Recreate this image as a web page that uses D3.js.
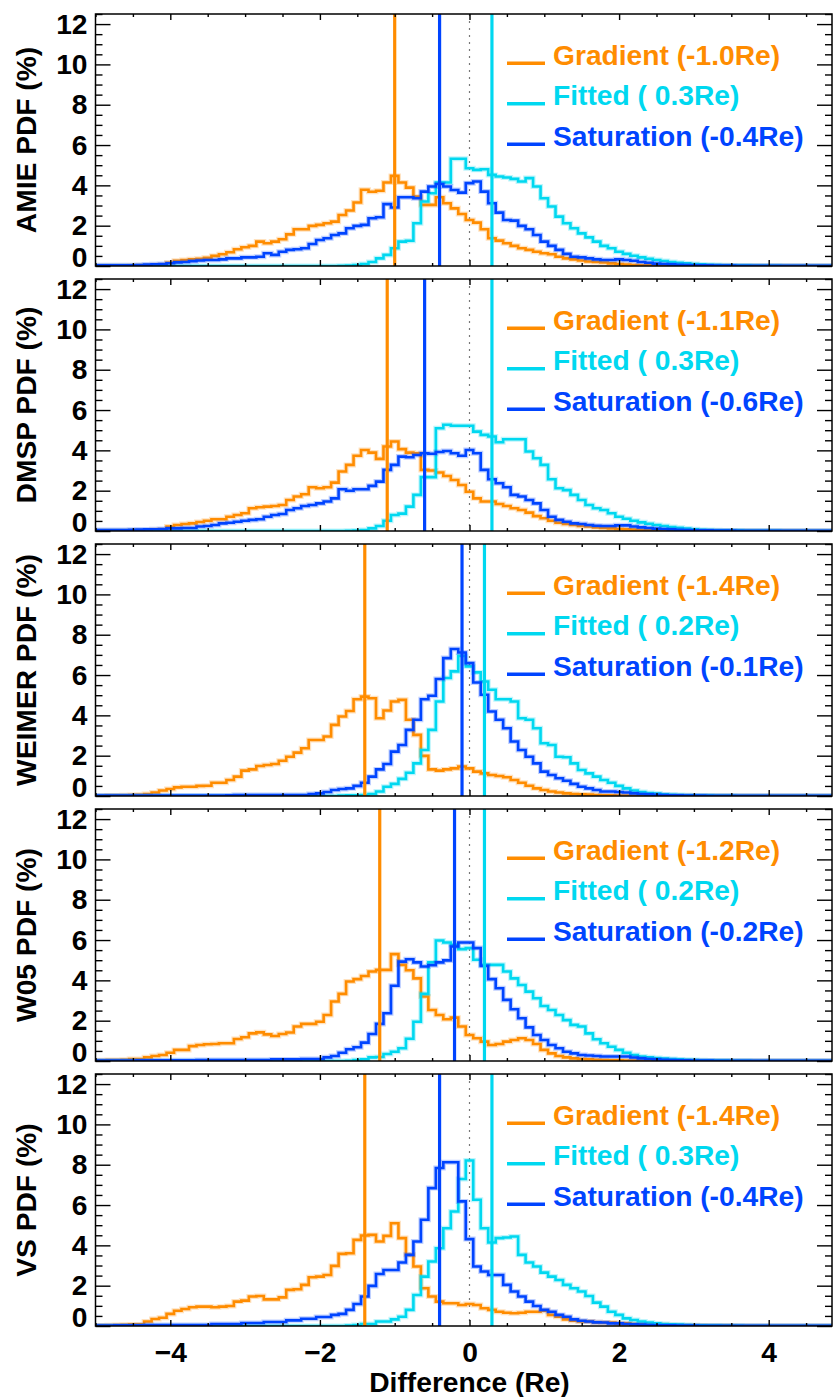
<!DOCTYPE html>
<html>
<head>
<meta charset="utf-8">
<script src="https://cdn.jsdelivr.net/npm/d3@7"></script>
<style>
  body { margin: 0; background: #ffffff; }
  svg text { font-family: "Liberation Sans", Arial, Helvetica, sans-serif; font-weight: bold; }
</style>
</head>
<body>
<svg id="chart" width="833" height="1397"></svg>
<script>
// ---------------- DATA ----------------
const panelNames = ["AMIE", "DMSP", "WEIMER", "W05", "VS"];
const gradientMeans = [-1.0, -1.1, -1.4, -1.2, -1.4];
const fittedMeans = [0.3, 0.3, 0.2, 0.2, 0.3];
const saturationMeans = [-0.4, -0.6, -0.1, -0.2, -0.4];
const yTickValues = [0, 2, 4, 6, 8, 10, 12];
const xTickValues = [-4, -2, 0, 2, 4];
const binStart = -5.0;   // centre of first bin (Re)
const binWidth = 0.1;    // bin width (Re)

// PDF values (%) per bin, bins centred at -5.0, -4.9, ... , 5.0
const amieGradient = [
  0,0,0,0,0,0.01,0.02,0.03,0.04,0.05,
  0.16,0.26,0.30,0.33,0.36,0.41,0.50,0.58,0.68,0.83,
  0.93,1.00,1.21,1.13,1.21,1.33,1.57,1.82,1.82,1.99,
  2.04,2.12,2.20,2.53,2.75,3.15,3.78,3.68,3.73,4.14,
  4.47,4.14,3.89,3.44,3.03,3.03,3.41,3.11,2.86,2.58,
  2.28,2.15,1.82,1.38,1.26,1.13,1.00,0.88,0.80,0.71,
  0.63,0.58,0.46,0.38,0.33,0.27,0.22,0.20,0.17,0.13,
  0.10,0.07,0.05,0.04,0.03,0.02,0.02,0.01,0.01,0.01,
  0.01,0.01,0,0,0,0,0,0,0,0,
  0,0,0,0,0,0,0,0,0,0,
  0];
const amieFitted = [
  0,0,0,0,0,0,0,0,0,0,
  0,0,0,0,0,0,0,0,0,0,
  0,0,0,0,0,0,0,0,0,0,
  0,0,0,0.01,0.02,0.05,0.10,0.20,0.38,0.55,
  0.88,1.21,1.25,2.12,3.20,3.61,4.14,4.14,5.32,5.32,
  4.85,4.77,4.80,4.52,4.44,4.39,4.32,4.19,4.36,3.94,
  3.36,2.95,2.45,2.12,1.87,1.62,1.42,1.21,1.00,0.88,
  0.71,0.60,0.51,0.43,0.36,0.30,0.25,0.20,0.16,0.13,
  0.10,0.08,0.06,0.05,0.04,0.03,0.02,0.02,0.01,0.01,
  0.01,0.01,0,0,0,0,0,0,0,0,
  0];
const amieSaturation = [
  0.04,0.04,0.04,0.04,0.04,0.04,0.05,0.07,0.09,0.10,
  0.14,0.18,0.20,0.24,0.27,0.30,0.30,0.33,0.38,0.38,
  0.43,0.43,0.46,0.63,0.55,0.71,0.80,0.83,0.88,1.09,
  1.29,1.38,1.54,1.62,1.87,1.99,2.04,2.37,2.42,3.07,
  2.90,3.41,3.41,3.36,3.69,3.94,4.07,3.94,3.77,3.64,
  4.11,4.19,3.69,3.11,2.65,2.28,2.25,1.99,1.82,1.54,
  1.21,1.00,0.80,0.60,0.46,0.43,0.38,0.33,0.30,0.30,
  0.33,0.30,0.26,0.20,0.16,0.12,0.10,0.08,0.06,0.05,
  0.04,0.03,0.03,0.02,0.02,0.02,0.01,0.01,0.01,0.01,
  0.01,0.01,0.01,0.01,0.01,0.01,0.01,0.01,0.01,0.01,
  0.01];

const dmspGradient = [
  0,0,0,0,0,0.01,0.02,0.03,0.05,0.08,
  0.22,0.30,0.35,0.38,0.45,0.51,0.58,0.58,0.71,0.79,
  0.88,1.13,1.18,1.21,1.24,1.29,1.54,1.71,1.82,2.17,
  2.12,2.17,2.40,2.95,3.28,3.73,4.02,3.89,3.58,4.19,
  4.44,4.06,3.89,3.86,3.03,3.00,2.90,2.73,2.53,2.28,
  1.95,1.62,1.46,1.46,1.34,1.24,1.13,1.04,0.91,0.74,
  0.63,0.51,0.41,0.35,0.30,0.25,0.22,0.18,0.15,0.13,
  0.10,0.08,0.07,0.05,0.03,0.02,0.02,0.01,0.01,0.01,
  0.01,0,0,0,0,0,0,0,0,0,
  0,0,0,0,0,0,0,0,0,0,
  0];
const dmspFitted = [
  0,0,0,0,0,0,0,0,0,0,
  0,0,0,0,0,0,0,0,0,0,
  0,0,0,0,0,0,0,0,0,0,
  0,0,0,0,0.01,0.02,0.05,0.13,0.25,0.51,
  0.79,0.86,1.21,1.79,2.67,2.67,5.10,5.27,5.22,5.22,
  5.22,4.93,4.77,4.69,4.40,4.55,4.55,4.55,3.94,3.61,
  3.28,2.57,2.12,2.03,1.79,1.54,1.29,1.13,1.04,0.88,
  0.71,0.61,0.51,0.43,0.36,0.30,0.25,0.20,0.16,0.12,
  0.09,0.06,0.05,0.04,0.03,0.02,0.02,0.01,0.01,0.01,
  0.01,0.01,0,0,0,0,0,0,0,0,
  0];
const dmspSaturation = [
  0.05,0.05,0.05,0.05,0.05,0.06,0.07,0.08,0.09,0.10,
  0.13,0.13,0.15,0.15,0.22,0.25,0.30,0.38,0.41,0.46,
  0.51,0.55,0.58,0.71,0.79,0.84,1.04,1.13,1.24,1.29,
  1.37,1.46,1.62,2.07,2.00,2.07,2.07,2.24,2.45,3.03,
  3.28,3.69,3.66,3.77,3.86,3.83,3.92,3.97,3.86,3.73,
  4.02,3.86,3.03,2.57,2.37,2.17,1.79,1.71,1.54,1.37,
  1.04,0.71,0.55,0.46,0.38,0.35,0.30,0.26,0.25,0.25,
  0.28,0.28,0.22,0.18,0.15,0.12,0.10,0.08,0.06,0.05,
  0.04,0.03,0.03,0.02,0.02,0.02,0.01,0.01,0.01,0.01,
  0.01,0.01,0.01,0.01,0.01,0.01,0.01,0.01,0.01,0.01,
  0.01];

const weimerGradient = [
  0,0,0.02,0.03,0.04,0.05,0.06,0.10,0.17,0.27,
  0.35,0.43,0.46,0.46,0.50,0.51,0.66,0.66,0.79,0.96,
  1.26,1.32,1.49,1.54,1.59,1.75,1.95,2.15,2.37,2.78,
  2.78,2.95,3.53,3.94,4.22,4.80,4.93,4.85,3.86,4.24,
  4.69,4.77,3.78,3.03,1.99,1.32,1.26,1.32,1.37,1.46,
  1.37,1.21,1.12,1.04,0.99,0.93,0.79,0.66,0.51,0.38,
  0.30,0.22,0.17,0.13,0.10,0.08,0.07,0.05,0.04,0.03,
  0.02,0.02,0.01,0.01,0.01,0,0,0,0,0,
  0,0,0,0,0,0,0,0,0,0,
  0,0,0,0,0,0,0,0,0,0,
  0];
const weimerFitted = [
  0,0,0,0,0,0,0,0,0,0,
  0,0,0,0,0,0,0,0,0,0,
  0,0,0,0,0,0,0,0,0,0,
  0,0,0,0.02,0.03,0.04,0.05,0.10,0.22,0.46,
  0.60,0.85,1.15,1.62,2.28,3.28,4.69,5.85,6.18,6.95,
  6.43,6.13,5.68,5.27,4.80,4.80,4.69,3.86,3.78,3.36,
  2.62,2.53,1.95,1.92,1.62,1.29,1.12,0.96,0.79,0.66,
  0.50,0.38,0.27,0.20,0.15,0.12,0.08,0.06,0.05,0.04,
  0.03,0.02,0.02,0.01,0.01,0.01,0,0,0,0,
  0,0,0,0,0,0,0,0,0,0,
  0];
const weimerSaturation = [
  0.02,0.02,0.02,0.02,0.02,0.02,0.02,0.02,0.02,0.02,
  0.02,0.02,0.02,0.02,0.02,0.02,0.02,0.02,0.03,0.05,
  0.05,0.05,0.05,0.05,0.05,0.05,0.05,0.05,0.05,0.10,
  0.13,0.20,0.30,0.35,0.38,0.50,0.66,0.96,1.32,1.59,
  2.20,2.53,3.28,3.78,4.80,4.97,5.80,6.84,7.29,7.12,
  6.59,5.63,5.02,4.19,3.78,3.36,2.70,2.28,1.95,1.62,
  1.21,1.04,0.88,0.76,0.60,0.46,0.38,0.30,0.22,0.22,
  0.20,0.17,0.13,0.10,0.08,0.06,0.05,0.04,0.03,0.02,
  0.02,0.02,0.01,0.01,0.01,0.01,0.01,0.01,0.01,0.01,
  0.01,0.01,0.01,0.01,0.01,0.01,0.01,0.01,0.01,0.01,
  0.01];

const w05Gradient = [
  0.03,0.04,0.05,0.05,0.06,0.10,0.10,0.18,0.25,0.30,
  0.41,0.55,0.55,0.74,0.79,0.83,0.84,0.88,0.88,1.09,
  1.18,1.37,1.42,1.32,1.24,1.34,1.41,1.71,1.84,1.84,
  1.95,2.28,2.95,3.33,3.94,4.06,4.22,4.44,4.52,4.52,
  5.30,4.77,4.50,4.10,3.20,2.53,2.28,2.07,2.15,1.71,
  1.29,1.13,0.96,0.79,0.84,0.96,1.04,1.13,1.04,0.84,
  0.55,0.38,0.25,0.18,0.13,0.10,0.08,0.06,0.05,0.04,
  0.03,0.02,0.02,0.01,0.01,0.01,0,0,0,0,
  0,0,0,0,0,0,0,0,0,0,
  0,0,0,0,0,0,0,0,0,0,
  0];
const w05Fitted = [
  0,0,0,0,0,0,0,0,0,0,
  0,0,0,0,0,0,0,0,0,0,
  0,0,0,0,0,0,0,0,0,0,
  0,0,0,0,0.01,0.05,0.08,0.18,0.20,0.35,
  0.46,0.63,1.10,1.95,3.33,4.89,5.98,5.88,5.76,5.55,
  5.60,5.02,4.77,4.77,4.77,4.44,4.10,3.77,3.44,3.11,
  2.73,2.53,2.28,2.03,1.79,1.71,1.37,1.08,0.88,0.71,
  0.55,0.41,0.30,0.22,0.18,0.15,0.12,0.10,0.08,0.06,
  0.05,0.04,0.03,0.02,0.02,0.01,0.01,0.01,0,0,
  0,0,0,0,0,0,0,0,0,0,
  0];
const w05Saturation = [
  0.02,0.02,0.02,0.02,0.02,0.02,0.03,0.03,0.03,0.03,
  0.03,0.04,0.04,0.04,0.05,0.05,0.05,0.05,0.05,0.05,
  0.05,0.05,0.05,0.05,0.08,0.08,0.08,0.08,0.10,0.10,
  0.10,0.18,0.25,0.41,0.58,0.68,0.91,1.34,1.84,2.37,
  3.73,4.93,5.05,4.89,4.69,4.75,4.89,4.99,5.68,5.88,
  5.88,5.60,4.72,4.06,3.61,3.03,2.57,2.12,1.67,1.29,
  1.04,0.79,0.63,0.46,0.38,0.30,0.27,0.25,0.22,0.22,
  0.22,0.22,0.17,0.13,0.10,0.08,0.06,0.05,0.04,0.03,
  0.02,0.02,0.02,0.01,0.01,0.01,0.01,0.01,0.01,0.01,
  0.01,0.01,0.01,0.01,0.01,0.01,0.01,0.01,0.01,0.01,
  0.01];

const vsGradient = [
  0.02,0.03,0.04,0.05,0.06,0.08,0.08,0.22,0.35,0.41,
  0.60,0.76,0.84,0.93,0.96,0.96,0.93,0.96,0.99,1.21,
  1.26,1.46,1.49,1.32,1.32,1.42,1.79,1.82,2.04,2.42,
  2.45,2.53,2.98,3.58,3.61,4.27,4.49,4.52,4.19,4.47,
  5.10,4.36,3.53,2.95,1.87,1.46,1.21,1.13,1.13,1.04,
  1.09,1.04,0.88,0.80,0.71,0.66,0.63,0.66,0.71,0.71,
  0.76,0.55,0.46,0.33,0.26,0.22,0.22,0.18,0.17,0.17,
  0.13,0.13,0.10,0.10,0.08,0.07,0.05,0.04,0.03,0.03,
  0.02,0.02,0.01,0.01,0.01,0.01,0,0,0,0,
  0,0,0,0,0,0,0,0,0,0,
  0];
const vsFitted = [
  0,0,0,0,0,0,0,0,0,0,
  0,0,0,0,0,0,0,0,0,0,
  0,0,0,0,0,0,0,0,0,0,
  0,0,0,0,0.02,0.05,0.10,0.10,0.22,0.22,
  0.33,0.46,0.80,1.54,2.45,3.20,3.86,4.85,5.68,7.29,
  8.21,6.26,4.85,4.14,4.36,4.39,4.44,3.53,3.15,2.95,
  2.65,2.45,2.28,2.04,1.87,1.71,1.49,1.16,0.96,0.71,
  0.55,0.38,0.30,0.22,0.17,0.13,0.10,0.08,0.07,0.05,
  0.04,0.03,0.02,0.02,0.01,0.01,0.01,0,0,0,
  0,0,0,0,0,0,0,0,0,0,
  0];
const vsSaturation = [
  0.02,0.02,0.02,0.03,0.03,0.03,0.04,0.05,0.05,0.05,
  0.05,0.05,0.05,0.05,0.05,0.05,0.10,0.10,0.10,0.10,
  0.15,0.15,0.15,0.20,0.20,0.20,0.28,0.28,0.36,0.36,
  0.45,0.45,0.55,0.60,0.80,1.09,1.46,1.99,2.58,2.78,
  2.78,3.15,3.53,4.19,5.27,6.84,7.84,8.12,8.12,6.18,
  4.31,2.95,2.70,2.53,2.53,2.04,1.71,1.46,1.21,0.99,
  0.80,0.71,0.55,0.46,0.33,0.26,0.22,0.18,0.17,0.13,
  0.13,0.10,0.08,0.07,0.05,0.04,0.03,0.03,0.02,0.02,
  0.02,0.01,0.01,0.01,0.01,0.01,0.01,0.01,0.01,0.01,
  0.01,0.01,0.01,0.01,0.01,0.01,0.01,0.01,0.01,0.01,
  0.01];

const gradientSeries = [amieGradient, dmspGradient, weimerGradient, w05Gradient, vsGradient];
const fittedSeries = [amieFitted, dmspFitted, weimerFitted, w05Fitted, vsFitted];
const saturationSeries = [amieSaturation, dmspSaturation, weimerSaturation, w05Saturation, vsSaturation];

// ---------------- STYLE / LAYOUT ----------------
const colorGradient = "#FF8C00";
const colorFitted = "#00D8F0";
const colorSaturation = "#0044FF";
const fontSize = 28.2;

const plotLeft = 95.5;
const plotRight = 832;          // visible right frame
const unitPx = 74.8;            // px per Re
const firstTop = 14;
const panelPitch = 265;
const panelHeight = 252;

const svg = d3.select("#chart");
const x = d3.scaleLinear().domain([-5, 5]).range([plotLeft, plotLeft + 10 * unitPx]);

const fmt = v => (v < 0 ? v.toFixed(1) : " " + v.toFixed(1));
const minorY = d3.range(0, 12.51, 0.5).filter(v => v % 2 !== 0);
const minorX = d3.range(-5, 5.01, 0.5).filter(v => Math.abs(v % 2) !== 0 && Math.abs(v) <= 5);

panelNames.forEach((name, p) => {
  const top = firstTop + p * panelPitch;
  const bottom = top + panelHeight;
  const y = d3.scaleLinear().domain([0, 12.5]).range([bottom, top]);
  const g = svg.append("g");

  const clipId = "clip" + p;
  svg.append("clipPath").attr("id", clipId)
    .append("rect").attr("x", plotLeft).attr("y", top)
    .attr("width", plotRight - plotLeft).attr("height", panelHeight);
  const plot = g.append("g").attr("clip-path", `url(#${clipId})`);

  // zero reference dotted line
  plot.append("line")
    .attr("x1", x(0)).attr("x2", x(0)).attr("y1", top).attr("y2", bottom)
    .attr("stroke", "#777").attr("stroke-width", 1.2).attr("stroke-dasharray", "2,5");

  const line = d3.line()
    .x((d, i) => x(binStart + i * binWidth))
    .y(d => y(d))
    .curve(d3.curveStep);

  const series = [
    [gradientSeries[p], colorGradient],
    [fittedSeries[p], colorFitted],
    [saturationSeries[p], colorSaturation]
  ];
  series.forEach(([vals, col]) => {
    plot.append("path").attr("d", line(vals)).attr("fill", "none")
      .attr("stroke", col).attr("stroke-width", 5).attr("stroke-opacity", 0.25)
      .attr("stroke-linejoin", "miter");
    plot.append("path").attr("d", line(vals)).attr("fill", "none")
      .attr("stroke", col).attr("stroke-width", 2.6)
      .attr("stroke-linejoin", "miter");
  });

  // mean lines
  [[gradientMeans[p], colorGradient], [fittedMeans[p], colorFitted], [saturationMeans[p], colorSaturation]]
    .forEach(([m, col]) => {
      plot.append("line")
        .attr("x1", x(m)).attr("x2", x(m)).attr("y1", top).attr("y2", bottom)
        .attr("stroke", col).attr("stroke-width", 3.2);
    });

  // axes (ticks inward)
  const axL = g.append("g").attr("transform", `translate(${plotLeft},0)`)
    .call(d3.axisLeft(y).tickValues(yTickValues).tickSize(-15).tickPadding(8).tickFormat(d3.format("d")));
  g.append("g").attr("transform", `translate(${plotLeft},0)`)
    .call(d3.axisLeft(y).tickValues(minorY).tickSize(-7).tickFormat(""));
  g.append("g").attr("transform", `translate(${plotRight},0)`)
    .call(d3.axisRight(y).tickValues(yTickValues).tickSize(-15).tickFormat(""));
  g.append("g").attr("transform", `translate(${plotRight},0)`)
    .call(d3.axisRight(y).tickValues(minorY).tickSize(-7).tickFormat(""));
  g.append("g").attr("transform", `translate(0,${top})`)
    .call(d3.axisTop(x).tickValues(xTickValues).tickSize(-6).tickFormat(""));
  g.append("g").attr("transform", `translate(0,${top})`)
    .call(d3.axisTop(x).tickValues(minorX).tickSize(-3).tickFormat(""));
  g.append("g").attr("transform", `translate(0,${bottom})`)
    .call(d3.axisBottom(x).tickValues(xTickValues).tickSize(-6).tickPadding(16)
      .tickFormat(p === panelNames.length - 1 ? d3.format("d") : ""));
  g.append("g").attr("transform", `translate(0,${bottom})`)
    .call(d3.axisBottom(x).tickValues(minorX).tickSize(-3).tickFormat(""));

  g.selectAll(".domain").remove();
  g.selectAll(".tick line").attr("stroke", "#000").attr("stroke-width", 1.4);
  g.selectAll(".tick text").attr("font-size", fontSize).attr("fill", "#000")
    .style("font-family", '"Liberation Sans", Arial, sans-serif').style("font-weight", "bold");
  // lowest y label sits slightly above its tick
  axL.selectAll(".tick").filter(d => d === 0).select("text").attr("dy", "0.0em");

  // frame
  g.append("rect").attr("x", plotLeft).attr("y", top)
    .attr("width", plotRight - plotLeft).attr("height", panelHeight)
    .attr("fill", "none").attr("stroke", "#000").attr("stroke-width", 1.5);

  // y title
  g.append("text")
    .attr("transform", `translate(36,${(top + bottom) / 2}) rotate(-90)`)
    .attr("text-anchor", "middle").attr("font-size", fontSize).attr("fill", "#000")
    .text(`${name} PDF (%)`);

  // legend
  const legend = [
    [`Gradient (${fmt(gradientMeans[p])}Re)`, colorGradient],
    [`Fitted (${fmt(fittedMeans[p])}Re)`, colorFitted],
    [`Saturation (${fmt(saturationMeans[p])}Re)`, colorSaturation]
  ];
  legend.forEach(([label, col], k) => {
    const base = top + 50.7 + k * 40.5;
    g.append("line").attr("x1", 507).attr("x2", 545)
      .attr("y1", base - 1.5).attr("y2", base - 1.5)
      .attr("stroke", col).attr("stroke-width", 3.5);
    g.append("text").attr("x", 553).attr("y", base)
      .attr("font-size", fontSize).attr("fill", col)
      .style("white-space", "pre")
      .text(label);
  });
});

// x title
svg.append("text")
  .attr("x", x(0)).attr("y", 1392)
  .attr("text-anchor", "middle").attr("font-size", fontSize).attr("fill", "#000")
  .text("Difference (Re)");
</script>
</body>
</html>
